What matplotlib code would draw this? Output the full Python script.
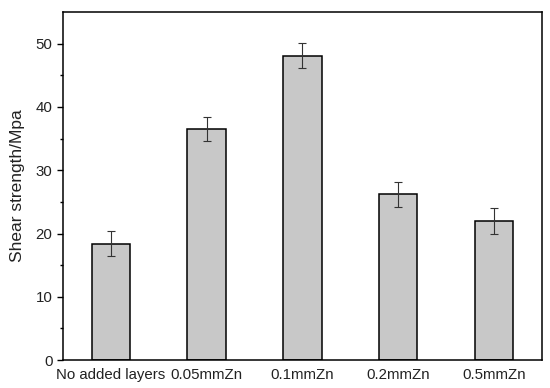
import numpy as np
import matplotlib.pyplot as plt

plt.rcParams['font.family'] = ['Liberation Sans', 'DejaVu Sans']

labels = ["No added layers", "0.05mmZn", "0.1mmZn", "0.2mmZn", "0.5mmZn"]
strength = [18.4, 36.5, 48.1, 26.2, 22.0]
strength_err = [2.0, 1.95, 2.0, 2.0, 2.0]

x = np.arange(len(labels))

fig = plt.figure(figsize=(5.5, 3.88), dpi=100)
ax = fig.add_axes([0.1145, 0.072, 0.8705, 0.897])

ax.bar(x, strength, 0.4, color="#c8c8c8", edgecolor="black", linewidth=1.1,
       yerr=strength_err, capsize=3,
       error_kw=dict(ecolor="#333333", elinewidth=0.8, capthick=0.8))

ax.set_xlim(-0.5, 4.5)
ax.set_ylim(0, 55)
ax.set_yticks([0, 10, 20, 30, 40, 50])
ax.set_yticks(np.arange(5, 55, 10), minor=True)
ax.set_xticks(x)
ax.set_xticklabels(labels)
ax.tick_params(axis="x", length=0, labelsize=10.8, pad=6, colors="#222222")
ax.tick_params(axis="y", which="major", length=4, width=1, labelsize=10.8,
               labelcolor="#222222")
ax.tick_params(axis="y", which="minor", length=2.5, width=1)
ax.set_ylabel("Shear strength/Mpa", fontsize=12.5, labelpad=8, color="#222222")
for s in ax.spines.values():
    s.set_linewidth(1.1)

fig.savefig("out.png", dpi=100)
